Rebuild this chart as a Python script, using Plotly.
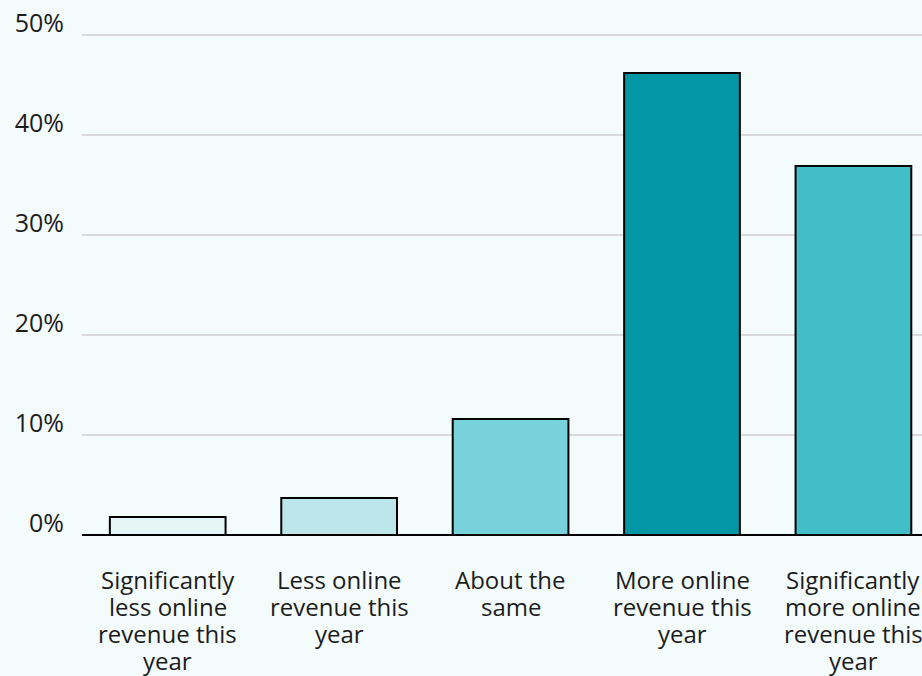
import plotly.graph_objects as go

# Survey responses: expected change in online revenue
categories = [
    "Significantly less online revenue this year",
    "Less online revenue this year",
    "About the same",
    "More online revenue this year",
    "Significantly more online revenue this year",
]
label_lines = [
    ["Significantly", "less online", "revenue this", "year"],
    ["Less online", "revenue this", "year"],
    ["About the", "same"],
    ["More online", "revenue this", "year"],
    ["Significantly", "more online", "revenue this", "year"],
]
shares = [1.8, 3.7, 11.6, 46.2, 36.9]
bar_colors = ["#e6f5f6", "#bde6ea", "#77d2dc", "#0397a6", "#43bec9"]
y_ticks = [0, 10, 20, 30, 40, 50]

BG = "#f3fbfb"
FONT = "Open Sans, Noto Sans, sans-serif"
TEXT = "#1c1c1c"
LABEL_RAISE = 1.15  # tick labels sit just above their gridline

fig = go.Figure(
    go.Bar(
        x=categories,
        y=shares,
        width=0.675,
        marker=dict(color=bar_colors, line=dict(color="#000000", width=2)),
        hoverinfo="skip",
    )
)

# Horizontal gridlines
shapes = [
    dict(type="line", xref="paper", x0=0, x1=1, yref="y", y0=v, y1=v,
         line=dict(color="#dadada", width=2), layer="below")
    for v in y_ticks if v > 0
]

# Multi-line category labels under each bar, one row per line for tight leading
annotations = []
for cat, lines in zip(categories, label_lines):
    for i, line in enumerate(lines):
        annotations.append(
            dict(
                x=cat, xref="x", y=0, yref="paper",
                yanchor="middle", xanchor="center",
                yshift=-(44 + i * 27.2),
                borderpad=0,
                text=line, showarrow=False,
                font=dict(family=FONT, size=24, color=TEXT),
            )
        )

fig.update_layout(
    width=922, height=676,
    margin=dict(l=82, r=0, t=15, b=141),
    paper_bgcolor=BG, plot_bgcolor=BG,
    showlegend=False,
    annotations=annotations,
    shapes=shapes,
)
fig.update_xaxes(
    type="category",
    range=[-0.5, 4.4],
    showticklabels=False,
    ticks="",
    showgrid=False,
    showline=False,
    zeroline=False,
)
fig.update_yaxes(
    range=[0, 52],
    tickvals=[v + LABEL_RAISE for v in y_ticks],
    ticktext=[f"{v}%" for v in y_ticks],
    ticks="",
    ticklabelstandoff=17,
    tickfont=dict(family=FONT, size=25, color=TEXT),
    showgrid=False,
    zeroline=True, zerolinecolor="#000000", zerolinewidth=2,
    showline=False,
)

fig.write_html("out.html")
